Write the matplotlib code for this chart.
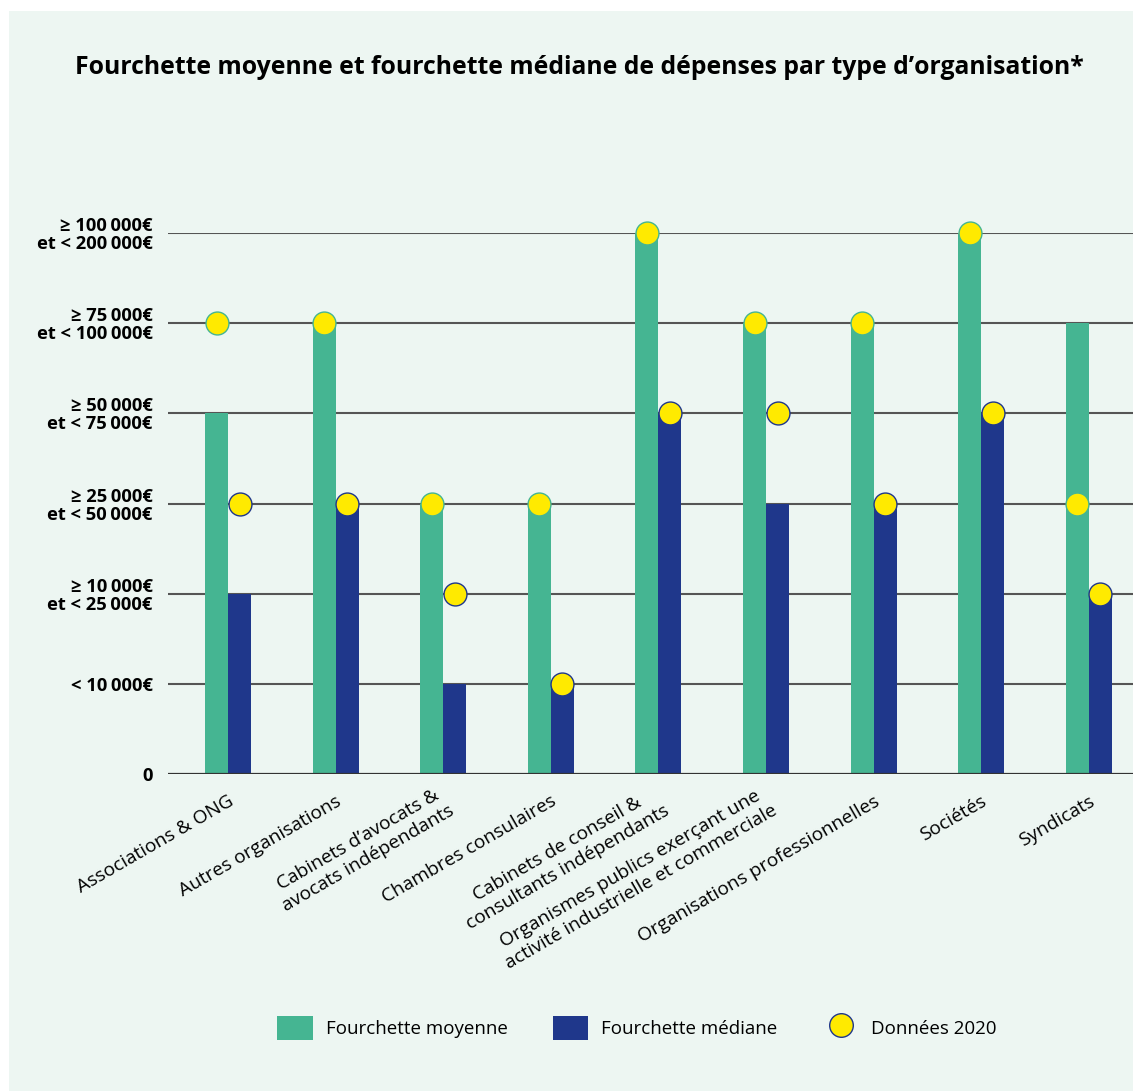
import numpy as np
import matplotlib.pyplot as plt
from matplotlib.patches import Rectangle
from matplotlib.lines import Line2D

plt.rcParams['font.family'] = ['Open Sans', 'DejaVu Sans']

categories = [
    "Associations & ONG",
    "Autres organisations",
    "Cabinets d\u2019avocats &\navocats indépendants",
    "Chambres consulaires",
    "Cabinets de conseil &\nconsultants indépendants",
    "Organismes publics exerçant une\nactivité industrielle et commerciale",
    "Organisations professionnelles",
    "Sociétés",
    "Syndicats",
]
# spending bracket index (0 = none, 1 = < 10k, ... 6 = 100k-200k)
moyenne = [4, 5, 3, 3, 6, 5, 5, 6, 5]
mediane = [2, 3, 1, 1, 4, 3, 3, 4, 2]
moyenne_2020 = [5, 5, 3, 3, 6, 5, 5, 6, 3]
mediane_2020 = [3, 3, 2, 1, 4, 4, 3, 4, 2]

tranches = [
    "0",
    "<\u00a010\u202f000€",
    "≥ 10\u202f000€\net < 25\u202f000€",
    "≥ 25\u202f000€\net < 50\u202f000€",
    "≥ 50\u202f000€\net < 75\u202f000€",
    "≥ 75\u202f000€\net < 100\u202f000€",
    "≥ 100\u202f000€\net < 200\u202f000€",
]

vert = "#45B592"
bleu = "#1F378B"
jaune = "#FFEA00"
fond = "#EDF6F2"

fig = plt.figure(figsize=(11.33, 10.91), dpi=100, facecolor="white")
fig.patches.append(Rectangle((9 / 1133, 0), 1, 1 - 11 / 1091, transform=fig.transFigure,
                             facecolor=fond, edgecolor="none", zorder=-10))

ax = fig.add_axes([168 / 1133, 1 - 774 / 1091, 1 - 168 / 1133, 541 / 1091])
ax.set_facecolor("none")

x = np.arange(len(categories))
w = 0.214
ax.bar(x - w / 2, moyenne, width=w, color=vert, zorder=2)
ax.bar(x + w / 2, mediane, width=w, color=bleu, zorder=2)

for xi, v in zip(x - w / 2, moyenne_2020):
    ax.plot(xi, v, "o", ms=16.5, mfc=jaune, mec=vert, mew=1, zorder=4, clip_on=False)
for xi, v in zip(x + w / 2, mediane_2020):
    ax.plot(xi, v, "o", ms=16.5, mfc=jaune, mec=bleu, mew=1, zorder=4, clip_on=False)

ax.set_xlim(-0.558, 8.41)
ax.set_ylim(0, 6)
ax.set_yticks(range(len(tranches)))
ax.set_yticklabels(tranches, fontsize=13.2, fontweight="bold", linespacing=1.0)
ax.tick_params(axis="y", length=0, pad=11)
ax.set_xticks([])
for s in ax.spines.values():
    s.set_visible(False)
for lvl in range(1, 7):
    ax.axhline(lvl, color="#555555", lw=1.5, zorder=1)
ax.axhline(0, color="#333333", lw=1.6, zorder=3)

for xi, lab in zip(x, categories):
    ax.text(xi + 0.04, -0.048, lab, transform=ax.get_xaxis_transform(),
            rotation=30, rotation_mode="anchor", ha="right", va="center",
            multialignment="center", fontsize=13.8, linespacing=1.22)

fig.text(579 / 1133, 1 - 68 / 1091,
         "Fourchette moyenne et fourchette médiane de dépenses par type d\u2019organisation*",
         ha="center", va="center", fontsize=17.8, fontweight="bold")

handles = [
    Rectangle((0, 0), 1, 1, facecolor=vert),
    Rectangle((0, 0), 1, 1, facecolor=bleu),
    Line2D([], [], marker="o", ls="none", ms=17, mfc=jaune, mec=bleu, mew=1),
]
fig.legend(handles, ["Fourchette moyenne", "Fourchette médiane", "Données 2020"],
           loc="center", bbox_to_anchor=(637 / 1133, 1 - 1028 / 1091), ncol=3,
           frameon=False, fontsize=13.5, handlelength=1.9, handleheight=1.6,
           columnspacing=2.4, handletextpad=0.7)

fig.savefig("out.png", dpi=100, facecolor=fig.get_facecolor())
